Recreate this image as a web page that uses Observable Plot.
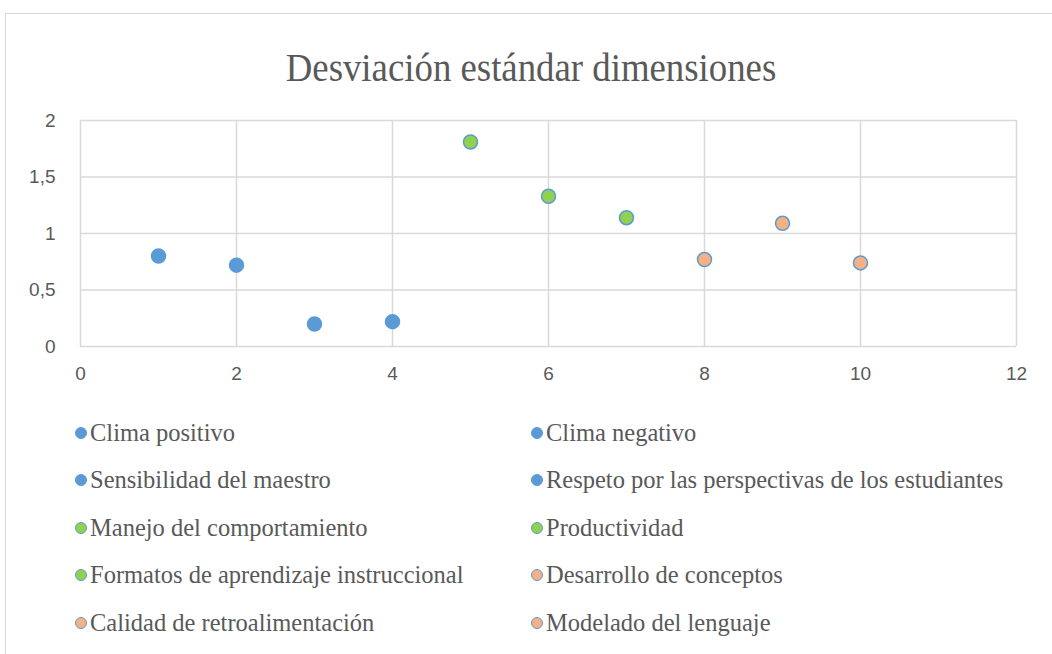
<!DOCTYPE html>
<html>
<head>
<meta charset="utf-8">
<script src="https://cdn.jsdelivr.net/npm/d3@7"></script>
<script src="https://cdn.jsdelivr.net/npm/@observablehq/plot@0.6"></script>
<style>
  html, body { margin: 0; padding: 0; background: #fff; }
  body { width: 1052px; height: 654px; position: relative; overflow: hidden; }
  #frame { position: absolute; left: 5px; top: 13px; width: 1100px; height: 700px; border: 1.5px solid #d9d9d9; box-sizing: border-box; }
  #title { position: absolute; left: 131px; width: 800px; top: 44px; line-height: 48px; text-align: center; font-family: "Liberation Serif", "Times New Roman", serif; font-size: 40px; color: #595959; white-space: nowrap; transform: scaleX(0.92); transform-origin: 50% 50%; }
  #chart { position: absolute; left: 0; top: 100px; }
  #legend { position: absolute; left: 75px; top: 409px; display: grid; grid-template-columns: 456px 480px; font-family: "Liberation Serif", "Times New Roman", serif; font-size: 24.5px; color: #595959; }
  .item { height: 47.5px; display: flex; align-items: center; white-space: nowrap; }
  .sw { width: 10px; height: 10px; border-radius: 50%; border: 1px solid #5B9BD5; margin-right: 3px; flex: none; }
</style>
</head>
<body>
<div id="frame"></div>
<div id="title">Desviación estándar dimensiones</div>
<div id="chart"></div>
<div id="legend"></div>
<script>
const dimensions = [
  "Clima positivo",
  "Clima negativo",
  "Sensibilidad del maestro",
  "Respeto por las perspectivas de los estudiantes",
  "Manejo del comportamiento",
  "Productividad",
  "Formatos de aprendizaje instruccional",
  "Desarrollo de conceptos",
  "Calidad de retroalimentación",
  "Modelado del lenguaje"
];
const positions = [1, 2, 3, 4, 5, 6, 7, 8, 9, 10];
const stdDevs = [0.80, 0.72, 0.20, 0.22, 1.81, 1.33, 1.14, 0.77, 1.09, 0.74];
const domain = ["Apoyo emocional", "Apoyo emocional", "Apoyo emocional", "Apoyo emocional",
  "Organización del aula", "Organización del aula", "Organización del aula",
  "Apoyo instruccional", "Apoyo instruccional", "Apoyo instruccional"];
const xTicks = [0, 2, 4, 6, 8, 10, 12];
const yTicks = [0, 0.5, 1, 1.5, 2];

const groupNames = ["Apoyo emocional", "Organización del aula", "Apoyo instruccional"];
const groupFills = ["#5B9BD5", "#92D050", "#F4B183"];
const fillOf = d3.scaleOrdinal(groupNames, groupFills);

const data = dimensions.map((name, i) => ({ name, x: positions[i], y: stdDevs[i], group: domain[i] }));
const fmt = v => String(v).replace(".", ",");

const plot = Plot.plot({
  width: 1052,
  height: 300,
  marginTop: 20,
  marginBottom: 54,
  marginLeft: 80,
  marginRight: 36,
  style: { fontFamily: "'Liberation Sans', Arial, sans-serif", fontSize: "19px", color: "#595959", background: "transparent", overflow: "visible" },
  x: { domain: [0, 12], ticks: xTicks, tickFormat: fmt, tickSize: 0, tickPadding: 20, label: null },
  y: { domain: [0, 2], ticks: yTicks, tickFormat: fmt, tickSize: 0, tickPadding: 25, label: null },
  color: { domain: groupNames, range: groupFills },
  marks: [
    Plot.ruleX(xTicks, { stroke: "#d9d9d9", strokeWidth: 1.5, strokeOpacity: 1 }),
    Plot.ruleY(yTicks, { stroke: "#d9d9d9", strokeWidth: 1.5, strokeOpacity: 1 }),
    Plot.axisX({ ticks: xTicks, tickFormat: fmt, tickSize: 0, tickPadding: 20, fill: "#595959", fontSize: 19 }),
    Plot.axisY({ ticks: yTicks, tickFormat: fmt, tickSize: 0, tickPadding: 25, fill: "#595959", fontSize: 19 }),
    Plot.dot(data, { x: "x", y: "y", r: 7, fill: "group", stroke: "#5B9BD5", strokeWidth: 1.5 })
  ]
});
document.getElementById("chart").appendChild(plot);

const legend = document.getElementById("legend");
data.forEach(d => {
  const item = document.createElement("div");
  item.className = "item";
  const sw = document.createElement("span");
  sw.className = "sw";
  sw.style.background = fillOf(d.group);
  const label = document.createElement("span");
  label.textContent = d.name;
  item.appendChild(sw);
  item.appendChild(label);
  legend.appendChild(item);
});
</script>
</body>
</html>
